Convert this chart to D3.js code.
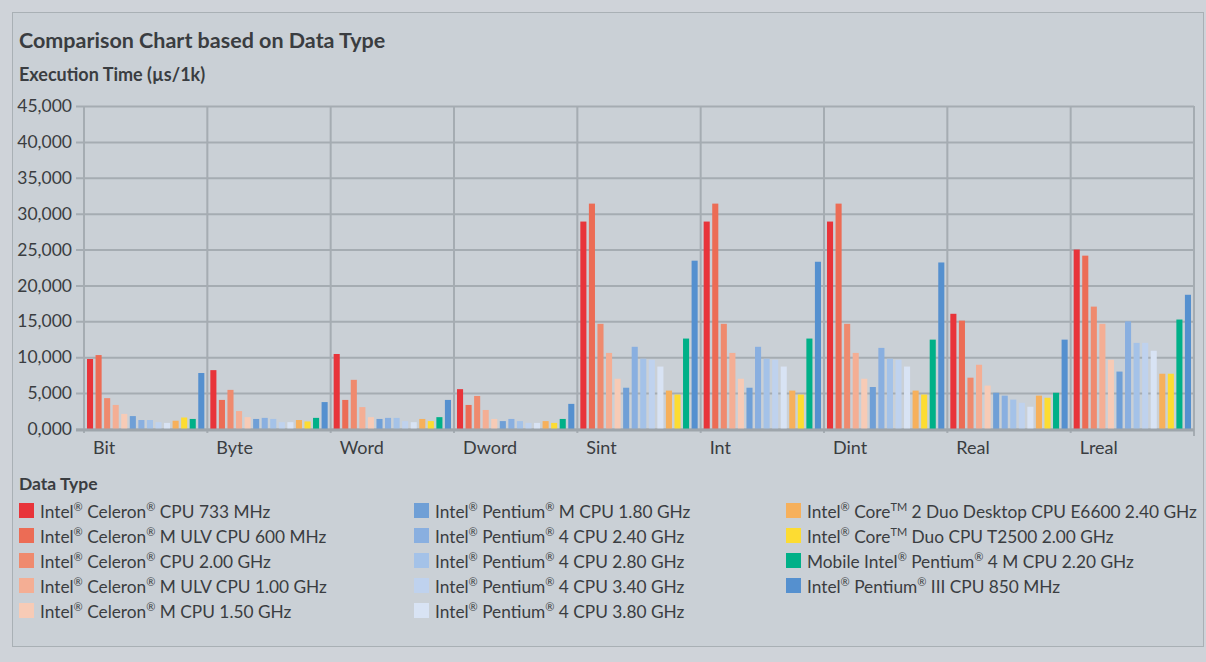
<!DOCTYPE html>
<html>
<head>
<meta charset="utf-8">
<script src="https://cdn.jsdelivr.net/npm/d3@7"></script>
<style>
  body { margin: 0; background: #cfd3d9; }
  svg { display: block; font-family: Lato, "Open Sans", sans-serif; }
</style>
</head>
<body>
<svg id="chart" width="1206" height="662"></svg>
<script>
var width = 1206, height = 662;

var categories = ["Bit", "Byte", "Word", "Dword", "Sint", "Int", "Dint", "Real", "Lreal"];

var seriesNames = [
    "Intel® Celeron® CPU 733 MHz",
    "Intel® Celeron® M ULV CPU 600 MHz",
    "Intel® Celeron® CPU 2.00 GHz",
    "Intel® Celeron® M ULV CPU 1.00 GHz",
    "Intel® Celeron® M CPU 1.50 GHz",
    "Intel® Pentium® M CPU 1.80 GHz",
    "Intel® Pentium® 4 CPU 2.40 GHz",
    "Intel® Pentium® 4 CPU 2.80 GHz",
    "Intel® Pentium® 4 CPU 3.40 GHz",
    "Intel® Pentium® 4 CPU 3.80 GHz",
    "Intel® Core™ 2 Duo Desktop CPU E6600 2.40 GHz",
    "Intel® Core™ Duo CPU T2500 2.00 GHz",
    "Mobile Intel® Pentium® 4 M CPU 2.20 GHz",
    "Intel® Pentium® III CPU 850 MHz"
];

var seriesColors = ["#e8343a", "#ec6c55", "#ef8a6e", "#f4ae94", "#f7cbb6",
    "#6f9fd6", "#89afe0", "#a4c2e8", "#bfd2ee", "#d8e3f4",
    "#f6b05c", "#fddc32", "#00b088", "#5590cf"];

// one array per data type, in series order
var bitValues   = [9750, 10300, 4300, 3350, 2100, 1800, 1250, 1250, 950, 850, 1150, 1600, 1400, 7800];
var byteValues  = [8200, 4050, 5450, 2500, 1650, 1400, 1550, 1400, 950, 950, 1250, 1050, 1550, 3750];
var wordValues  = [10450, 4050, 6850, 3050, 1650, 1400, 1550, 1550, 1100, 950, 1400, 1100, 1650, 4050];
var dwordValues = [5550, 3350, 4600, 2650, 1400, 1100, 1400, 1100, 850, 850, 1100, 850, 1400, 3500];
var sintValues  = [28900, 31400, 14650, 10600, 7000, 5750, 11450, 9800, 9650, 8700, 5350, 4800, 12600, 23450];
var intValues   = [28900, 31400, 14650, 10600, 7000, 5750, 11450, 9800, 9650, 8700, 5350, 4800, 12600, 23300];
var dintValues  = [28900, 31400, 14650, 10600, 7000, 5850, 11300, 9800, 9650, 8700, 5350, 4800, 12450, 23200];
var realValues  = [16050, 15100, 7150, 8950, 6050, 5050, 4650, 4100, 3650, 3100, 4650, 4350, 5050, 12450];
var lrealValues = [25000, 24150, 17050, 14650, 9650, 8000, 15000, 12000, 12000, 10900, 7700, 7700, 15250, 18700];

var yTicks = [0, 5000, 10000, 15000, 20000, 25000, 30000, 35000, 40000, 45000];

var table = [bitValues, byteValues, wordValues, dwordValues, sintValues,
    intValues, dintValues, realValues, lrealValues].map(function (vals, i) {
    return { cat: categories[i], values: vals };
});

var textColor = "#3a3d41";
var gridColor = "#a5acb2";

var svg = d3.select("#chart");

// frame
svg.append("rect")
    .attr("x", 12.5).attr("y", 12.5)
    .attr("width", 1191).attr("height", 634)
    .attr("fill", "#cad0d6")
    .attr("stroke", "#a9b0b5");

svg.append("text")
    .attr("x", 19).attr("y", 48)
    .attr("font-size", 21.5).attr("font-weight", "bold")
    .attr("fill", textColor)
    .text("Comparison Chart based on Data Type");

svg.append("text")
    .attr("x", 19).attr("y", 81)
    .attr("font-size", 18).attr("font-weight", "bold")
    .attr("fill", textColor)
    .text("Execution Time (µs/1k)");

var x0 = d3.scaleBand().domain(categories).range([84, 1194]);
var x1 = d3.scaleBand().domain(d3.range(seriesNames.length))
    .range([3, x0.bandwidth() - 3]).paddingInner(0.29);
var y = d3.scaleLinear().domain([0, 45000]).range([429, 106]);

// horizontal gridlines + y labels
var yAxis = d3.axisLeft(y)
    .tickValues(yTicks)
    .tickSize(-(1194 - 76))
    .tickPadding(4)
    .tickFormat(function (d) { return d === 0 ? "0,000" : d3.format(",")(d); });

var gy = svg.append("g")
    .attr("transform", "translate(76,0)")
    .call(yAxis);
gy.select(".domain").remove();
gy.selectAll(".tick line")
    .attr("stroke", gridColor).attr("stroke-width", 2);
gy.selectAll(".tick text")
    .attr("x", -4)
    .attr("font-size", 17.5)
    .attr("font-family", "Lato, sans-serif")
    .attr("fill", textColor);

// category separators
var seps = categories.map(function (c) { return x0(c); }).concat([1194]);
svg.selectAll(".sep")
    .data(seps)
    .enter()
    .append("line")
    .attr("class", "sep")
    .attr("x1", function (d) { return d; })
    .attr("x2", function (d) { return d; })
    .attr("y1", 106)
    .attr("y2", function (d, i) { return i === seps.length - 1 ? 436 : 433; })
    .attr("stroke", gridColor)
    .attr("stroke-width", 2);

// bars
var groups = svg.selectAll(".group")
    .data(table)
    .enter()
    .append("g")
    .attr("class", "group")
    .attr("transform", function (d) { return "translate(" + x0(d.cat) + ",0)"; });

groups.selectAll("rect")
    .data(function (d) { return d.values; })
    .enter()
    .append("rect")
    .attr("x", function (d, i) { return x1(i); })
    .attr("y", function (d) { return y(d); })
    .attr("width", x1.bandwidth())
    .attr("height", function (d) { return y(0) - y(d); })
    .attr("fill", function (d, i) { return seriesColors[i]; });

// base axis line
svg.append("line")
    .attr("x1", 76).attr("x2", 1194)
    .attr("y1", 430).attr("y2", 430)
    .attr("stroke", "#9ea5ab").attr("stroke-width", 3);

// x labels
svg.selectAll(".xlab")
    .data(categories)
    .enter()
    .append("text")
    .attr("class", "xlab")
    .attr("x", function (d) { return x0(d) + 9; })
    .attr("y", 454)
    .attr("font-size", 18)
    .attr("fill", textColor)
    .text(function (d) { return d; });

// legend
svg.append("text")
    .attr("x", 19).attr("y", 490)
    .attr("font-size", 17.5).attr("font-weight", "bold")
    .attr("fill", textColor)
    .text("Data Type");

var legendCols = [19, 414, 786];
var legend = svg.selectAll(".leg")
    .data(seriesNames)
    .enter()
    .append("g")
    .attr("class", "leg")
    .attr("transform", function (d, i) {
        var col = i < 5 ? 0 : (i < 10 ? 1 : 2);
        var row = i < 5 ? i : (i < 10 ? i - 5 : i - 10);
        return "translate(" + legendCols[col] + "," + (503 + row * 25) + ")";
    });

legend.append("rect")
    .attr("width", 15).attr("height", 15)
    .attr("fill", function (d, i) { return seriesColors[i]; });

legend.each(function (d) {
    var t = d3.select(this).append("text")
        .attr("x", 21).attr("y", 14.5)
        .attr("font-size", 17.3)
        .attr("fill", textColor);
    var parts = d.split(/(®|™)/);
    var shift = 0;
    parts.forEach(function (p) {
        if (p === "®" || p === "™") {
            t.append("tspan")
                .attr("font-size", 11)
                .attr("dy", -7)
                .text(p === "®" ? "®" : "TM");
            shift = 7;
        } else if (p.length) {
            t.append("tspan").attr("dy", shift).text(p);
            shift = 0;
        }
    });
});
</script>
</body>
</html>
